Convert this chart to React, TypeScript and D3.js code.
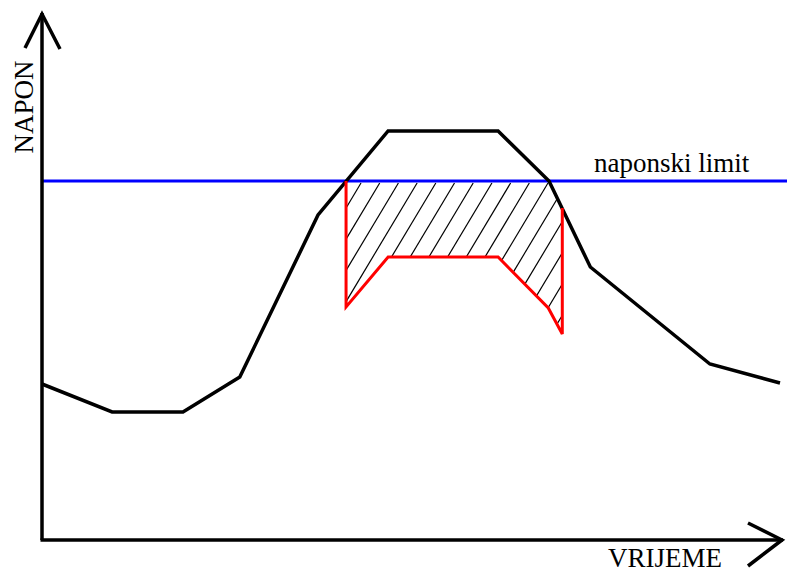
import React from "react";
import * as d3 from "d3";

// Voltage curve (time, voltage)
const curveTime = [0, 9.5, 19.1, 26.8, 37.4, 46.9, 61.8, 68.7, 74.3, 90.5, 100];
const curveVoltage = [31.2, 25.6, 25.6, 32.6, 65, 81.8, 81.8, 71.8, 54.6, 35.2, 31.4];

// Voltage limit
const limitValue = 71.8;
const limitLabel = "naponski limit";

// Clipped (limited) voltage curve
const clipTime = [41.2, 41.2, 46.9, 61.8, 68.6, 70.5, 70.5];
const clipVoltage = [71.8, 46.6, 56.6, 56.6, 46.4, 41.2, 66.4];

// Hatched region between the limit/curve and the clipped curve
const hatchTime = [41.2, 68.7, 70.5, 70.5, 68.6, 61.8, 46.9, 41.2];
const hatchVoltage = [71.8, 71.8, 66.4, 41.2, 46.4, 56.6, 56.6, 46.6];

const xLabel = "VRIJEME";
const yLabel = "NAPON";

const W = 787;
const H = 569;

export default function App() {
  const x = d3.scaleLinear().domain([0, 100]).range([42, 780]);
  const y = d3.scaleLinear().domain([0, 100]).range([540, 40]);

  const line = d3
    .line<[number, number]>()
    .x((d) => x(d[0]))
    .y((d) => y(d[1]));

  const curve = line(curveTime.map((t, i) => [t, curveVoltage[i]]))!;
  const clip = line(clipTime.map((t, i) => [t, clipVoltage[i]]))!;
  const hatchPoly = line(hatchTime.map((t, i) => [t, hatchVoltage[i]]))! + "Z";

  const x0 = x(0);
  const y0 = y(0);
  const axisTop = 13;
  const axisRight = 783;

  // hatch lines
  const step = 18.7;
  const slope = 1.67; // dy per dx
  const hx1 = x(hatchTime[2]);
  const hy0 = y(limitValue);
  const hy1 = y(d3.min(hatchVoltage)!);
  const hatchLines: { x1: number; y1: number; x2: number; y2: number }[] = [];
  const h = hy1 - hy0 + 20;
  for (let xs = 361 - step * 10; xs < hx1 + h / slope + step; xs += step) {
    hatchLines.push({ x1: xs, y1: hy0, x2: xs - h / slope, y2: hy0 + h });
  }

  const fontStyle = { fontFamily: "Liberation Serif, Times New Roman, serif" };

  return (
    <svg
      width={W}
      height={H}
      style={{ position: "absolute", left: 0, top: 0, background: "#fff" }}
    >
      <defs>
        <clipPath id="hatchClip">
          <path d={hatchPoly} />
        </clipPath>
      </defs>

      {/* hatching */}
      <g clipPath="url(#hatchClip)">
        {hatchLines.map((l, i) => (
          <line
            key={i}
            x1={l.x1}
            y1={l.y1 + 2}
            x2={l.x2}
            y2={l.y2 + 2}
            stroke="#000"
            strokeWidth={1.2}
          />
        ))}
      </g>

      {/* limit line */}
      <line
        x1={x0}
        x2={W}
        y1={y(limitValue)}
        y2={y(limitValue)}
        stroke="#0000ff"
        strokeWidth={3}
      />
      <text x={594} y={172} style={fontStyle} fontSize={27} fill="#000">
        {limitLabel}
      </text>

      {/* voltage curve */}
      <path d={curve} fill="none" stroke="#000" strokeWidth={3.5} strokeLinejoin="miter" />

      {/* clipped curve */}
      <path d={clip} fill="none" stroke="#ff0000" strokeWidth={3} strokeLinejoin="miter" />

      {/* axes */}
      <line x1={x0} y1={y0} x2={x0} y2={axisTop} stroke="#000" strokeWidth={3.5} />
      <line x1={x0 - 1.5} y1={y0} x2={axisRight} y2={y0} stroke="#000" strokeWidth={3.5} />
      <path
        d={`M${x0 - 17},${axisTop + 35} L${x0},${axisTop + 1} L${x0 + 18},${axisTop + 36}`}
        fill="none"
        stroke="#000"
        strokeWidth={3.5}
      />
      <path
        d={`M${axisRight - 35},${y0 - 17} L${axisRight - 1},${y0} L${axisRight - 35},${y0 + 26}`}
        fill="none"
        stroke="#000"
        strokeWidth={3.5}
      />

      {/* axis labels */}
      <text
        transform={`translate(33,107) rotate(-90)`}
        textAnchor="middle"
        style={fontStyle}
        fontSize={27}
        fill="#000"
      >
        {yLabel}
      </text>
      <text
        x={665}
        y={567}
        textAnchor="middle"
        style={fontStyle}
        fontSize={27}
        fill="#000"
      >
        {xLabel}
      </text>
    </svg>
  );
}
